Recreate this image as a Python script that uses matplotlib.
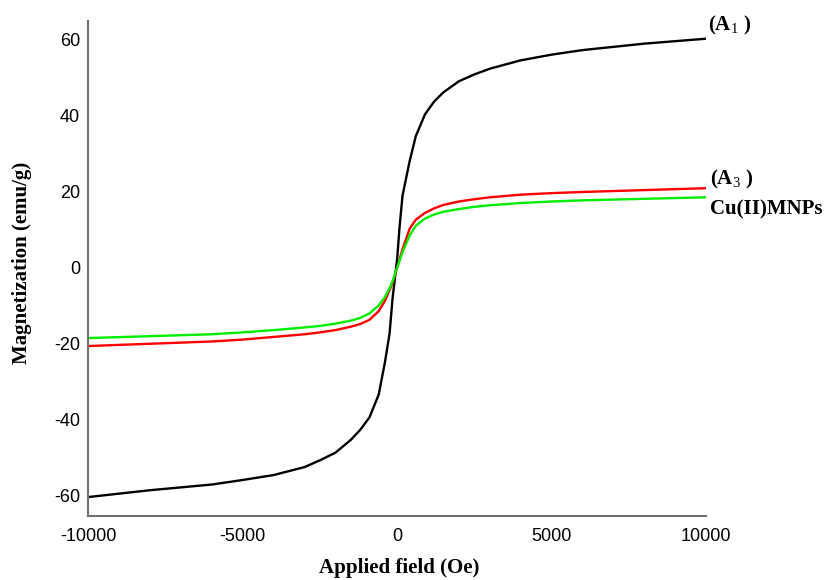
import matplotlib
matplotlib.use("Agg")
import matplotlib.pyplot as plt

# applied field (Oe)
field = [-10000, -8000, -6000, -5000, -4000, -3000, -2500, -2000, -1500, -1200, -900,
         -600, -400, -250, -150, 0, 70, 170, 400, 600, 900, 1200, 1500, 2000, 2500,
         3000, 4000, 5000, 6000, 8000, 10000]

# magnetization (emu/g)
a1 = [-60.5, -58.7, -57.2, -56.0, -54.7, -52.6, -50.8, -48.8, -45.4, -42.8, -39.5,
      -33.5, -25.0, -17.5, -8.0, 2.5, 10.2, 18.9, 28.0, 34.6, 40.4, 43.8, 46.2, 49.1, 50.9,
      52.4, 54.6, 56.1, 57.3, 59.0, 60.3]
a3 = [-20.7, -20.1, -19.5, -19.0, -18.3, -17.6, -17.1, -16.5, -15.6, -14.9, -13.8,
      -11.5, -8.8, -6.0, -4.0, 0.0, 2.0, 4.8, 10.2, 12.6, 14.4, 15.6, 16.5, 17.4, 18.0,
      18.5, 19.2, 19.6, 19.9, 20.4, 20.9]
cu = [-18.6, -18.1, -17.6, -17.1, -16.5, -15.8, -15.4, -14.8, -14.0, -13.3, -12.1,
      -10.0, -7.8, -5.5, -3.6, 0.0, 1.7, 4.0, 8.4, 11.0, 12.9, 14.0, 14.7, 15.4, 16.0,
      16.4, 17.0, 17.4, 17.7, 18.1, 18.5]

plt.rcParams['mathtext.fontset'] = 'custom'
plt.rcParams['mathtext.rm'] = 'Liberation Serif'
plt.rcParams['axes.unicode_minus'] = False

fig = plt.figure(figsize=(8.27, 5.8), dpi=100)
ax = fig.add_axes([0.107, 0.111, 0.7467, 0.853])

ax.plot(field, a1, color='black', lw=1.7)
ax.plot(field, a3, color='#ff0000', lw=1.7)
ax.plot(field, cu, color='#00ee00', lw=1.7)

ax.set_xlim(-10000, 10000)
ax.set_ylim(-65.4, 65)
ax.set_xticks([-10000, -5000, 0, 5000, 10000])
ax.set_yticks([-60, -40, -20, 0, 20, 40, 60])
ax.tick_params(length=0, labelsize=13, pad=6)
ax.tick_params(axis='x', pad=9)
for lab in ax.get_xticklabels() + ax.get_yticklabels():
    lab.set_family('Liberation Sans')

for s in ['top', 'right']:
    ax.spines[s].set_visible(False)
for s in ['left', 'bottom']:
    ax.spines[s].set_color('#707070')
    ax.spines[s].set_linewidth(1.5)

ax.set_xlabel('Applied field (Oe)', family='Liberation Serif', fontweight='bold', fontsize=15)
ax.set_ylabel('Magnetization (emu/g)', family='Liberation Serif', fontweight='bold', fontsize=15)
ax.xaxis.label.set_va('center')
ax.yaxis.label.set_va('center')
ax.xaxis.set_label_coords(0.503, -0.106)
ax.yaxis.set_label_coords(-0.108, 0.511)

tfont = dict(family='Liberation Serif', fontweight='bold', fontsize=15, va='center',
             ha='left', clip_on=False)
ax.text(10080, 63.9, r'(A$_1$ )', **tfont)
ax.text(10130, 23.3, r'(A$_3$ )', **tfont)
ax.text(10130, 15.2, 'Cu(II)MNPs', **tfont)

fig.savefig('out.png', dpi=100)
